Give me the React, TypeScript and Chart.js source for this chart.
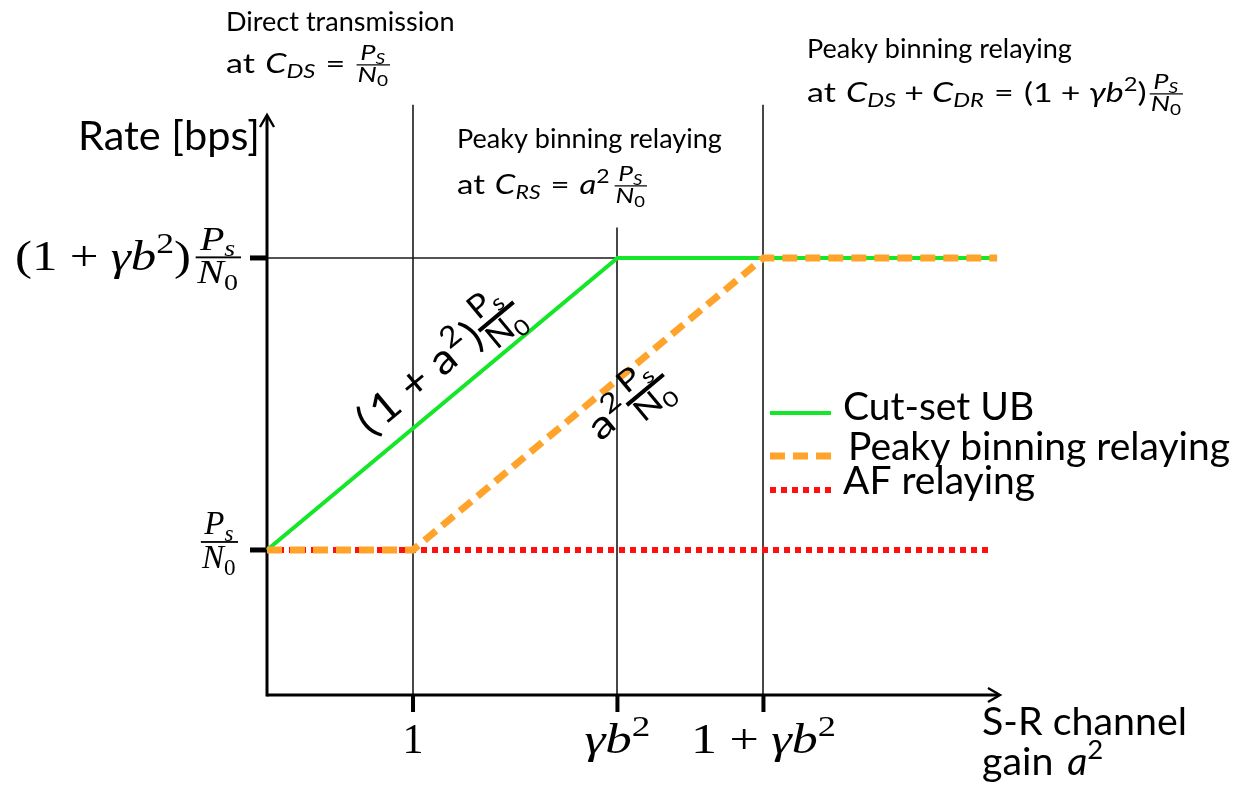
import React, { useEffect, useRef } from 'react';
import { Chart, registerables } from 'chart.js';
Chart.register(...registerables);

// ---------- data ----------
const cutSetX = [0, 2.4, 5];
const cutSetY = [1, 3.4, 3.4];
const peakyX = [0, 1, 3.4, 5];
const peakyY = [1, 1, 3.4, 3.4];
const afX = [0, 4.97];
const afY = [1, 1];
const seriesLabels = ['Cut-set UB', 'Peaky binning relaying', 'AF relaying'];
const xTickValues = [1, 2.4, 3.4];
const yTickValues = [3.4, 1];
const guideX = [1, 2.4, 3.4];
const guideTop = [4.66, 3.65, 4.66];
const hGuideY = 3.4;
const hGuideEnd = 2.4;

// ---------- rich text ----------
type P = { t?: string; it?: boolean; sub?: P[]; sup?: P[]; num?: P[]; den?: P[]; fs?: number; sp?: number; bw?: number };
const T = (t: string, it = false): P => ({ t, it });
const S = (sp: number): P => ({ sp });
const SUB = (...p: P[]): P => ({ sub: p });
const SUP = (...p: P[]): P => ({ sup: p });
const FRAC = (num: P[], den: P[], fs?: number, bw?: number): P => ({ num, den, fs, bw });

const SANS = 'Lato, "DejaVu Sans", sans-serif';
const SERIF = '"Liberation Serif", "DejaVu Serif", serif';

const PS = (s: string) => [T('P', true), SUB(T(s, true))];
const N0 = [T('N', true), SUB(T('0'))];
const PSup = [T('P'), SUB(T('s'))];
const N0up = [T('N'), SUB(T('0'))];
const GB2 = [T('γ', true), T('b', true), SUP(T('2'))];

const xTickLabels: P[][] = [
  [T('1')],
  [...GB2],
  [T('1'), S(0.24), T('+'), S(0.24), ...GB2],
];
const xTickWidths = [0, 66, 145];
const yTickLabels: P[][] = [
  [T('('), T('1'), S(0.24), T('+'), S(0.24), ...GB2, T(')'), S(0.06), FRAC(PS('s'), N0, 33)],
  [FRAC(PS('s'), N0, 33)],
];
const yTickWidths = [226, 0];
const annoTitles = ['Direct transmission', 'Peaky binning relaying', 'Peaky binning relaying'];
const annoFormulas: P[][] = [
  [T('at'), S(0.3), T('C', true), SUB(T('DS', true)), S(0.3), T('='), S(0.3), FRAC(PS('S'), N0)],
  [T('at'), S(0.3), T('C', true), SUB(T('RS', true)), S(0.3), T('='), S(0.3), T('a', true), SUP(T('2')), S(0.12), FRAC(PS('S'), N0)],
  [T('at'), S(0.3), T('C', true), SUB(T('DS', true)), S(0.24), T('+'), S(0.24), T('C', true), SUB(T('DR', true)), S(0.3), T('='), S(0.3), T('(1'), S(0.24), T('+'), S(0.24), ...GB2, T(')'), S(0.06), FRAC(PS('S'), N0)],
];
const annoWidths = [164, 190, 376];
const greenLineLabel: P[] = [T('('), S(0.1), T('1'), S(0.25), T('+'), S(0.25), T('a'), SUP(T('2')), S(0.05), T(')'), FRAC(PSup, N0up, 32, 4)];
const orangeLineLabel: P[] = [T('a'), SUP(T('2')), FRAC(PSup, N0up, 30, 4)];

const GREEN = '#14e628';
const ORANGE = '#ffa32b';
const RED = '#ff1010';

function fnt(size: number, it: boolean | undefined, fam: string) {
  return `${it ? 'italic ' : ''}${size}px ${fam}`;
}

function layout(ctx: CanvasRenderingContext2D, ps: P[], size: number, fam: string): { w: number; draw: (x: number, b: number) => void } {
  const items: ((x: number, b: number) => void)[] = [];
  let w = 0;
  for (const p of ps) {
    const x0 = w;
    if (p.sp != null) {
      w += p.sp * size;
    } else if (p.t != null) {
      ctx.font = fnt(size, p.it, fam);
      const tw = ctx.measureText(p.t).width;
      items.push((x, b) => {
        ctx.font = fnt(size, p.it, fam);
        ctx.fillText(p.t as string, x + x0, b);
      });
      w += tw;
    } else if (p.sub) {
      const L = layout(ctx, p.sub, size * 0.7, fam);
      items.push((x, b) => L.draw(x + x0, b + size * 0.2));
      w += L.w;
    } else if (p.sup) {
      const L = layout(ctx, p.sup, size * 0.7, fam);
      items.push((x, b) => L.draw(x + x0, b - size * 0.4));
      w += L.w;
    } else if (p.num && p.den) {
      const fs = p.fs ?? size * 0.8;
      const N = layout(ctx, p.num, fs, fam);
      const D = layout(ctx, p.den, fs, fam);
      const fw = Math.max(N.w, D.w) + size * 0.12;
      const bw = p.bw ?? Math.max(1.2, size * 0.045);
      items.push((x, b) => {
        const bar = b - size * 0.3;
        ctx.fillRect(x + x0 + size * 0.03, bar - bw / 2, fw - size * 0.03, bw);
        N.draw(x + x0 + (fw - N.w) / 2, bar - bw / 2 - fs * 0.17 - 1);
        D.draw(x + x0 + (fw - D.w) / 2, bar + bw / 2 + fs * 0.76);
      });
      w += fw;
    }
  }
  return { w, draw: (x, b) => items.forEach((f) => f(x, b)) };
}

function drawRich(ctx: CanvasRenderingContext2D, ps: P[], x: number, b: number, size: number, fam: string, align: 'left' | 'right' | 'center' = 'left', target = 0) {
  const L = layout(ctx, ps, size, fam);
  const k = target > 0 ? target / L.w : 1;
  const w = L.w * k;
  const x0 = align === 'left' ? x : align === 'right' ? x - w : x - w / 2;
  ctx.save();
  ctx.translate(x0, b);
  ctx.scale(k, 1);
  L.draw(0, 0);
  ctx.restore();
  return w;
}

function fitSize(ctx: CanvasRenderingContext2D, text: string, target: number, fam: string) {
  ctx.font = `100px ${fam}`;
  return (100 * target) / ctx.measureText(text).width;
}

function seg(ctx: CanvasRenderingContext2D, x1: number, y1: number, x2: number, y2: number) {
  ctx.beginPath();
  ctx.moveTo(x1, y1);
  ctx.lineTo(x2, y2);
  ctx.stroke();
}

const overlay = {
  id: 'overlay',
  beforeDatasetsDraw(chart: any) {
    const { ctx, scales } = chart;
    const x = scales.x, y = scales.y;
    const x0 = x.getPixelForValue(0);
    const yb = y.getPixelForValue(y.min);
    ctx.save();
    ctx.strokeStyle = '#1a1a1a';
    ctx.lineWidth = 1.6;
    guideX.forEach((g, i) => {
      const px = Math.round(x.getPixelForValue(g));
      seg(ctx, px, y.getPixelForValue(guideTop[i]), px, yb);
    });
    const hy = Math.round(y.getPixelForValue(hGuideY));
    seg(ctx, x0, hy, x.getPixelForValue(hGuideEnd), hy);

    // axes
    ctx.strokeStyle = '#000';
    ctx.lineWidth = 3;
    const xr = x.getPixelForValue(x.max);
    const yt = y.getPixelForValue(y.max);
    seg(ctx, x0, yb, xr - 1, yb);
    seg(ctx, x0, yb + 1.5, x0, yt + 1);
    ctx.lineWidth = 2.4;
    ctx.beginPath();
    ctx.moveTo(xr - 12, yb - 7); ctx.lineTo(xr, yb); ctx.lineTo(xr - 12, yb + 7);
    ctx.stroke();
    ctx.beginPath();
    ctx.moveTo(x0 - 7, yt + 12); ctx.lineTo(x0, yt); ctx.lineTo(x0 + 7, yt + 12);
    ctx.stroke();

    // ticks
    ctx.fillStyle = '#000';
    xTickValues.forEach((v) => {
      const px = x.getPixelForValue(v);
      ctx.fillRect(px - 2, yb, 4, 17);
    });
    yTickValues.forEach((v) => {
      const py = y.getPixelForValue(v);
      ctx.fillRect(x0 - 17, py - 2.5, 17, 5);
    });
    ctx.restore();
  },
  afterDatasetsDraw(chart: any) {
    const { ctx, scales } = chart;
    const x = scales.x, y = scales.y;
    const x0 = x.getPixelForValue(0);
    const yb = y.getPixelForValue(y.min);
    ctx.save();
    ctx.fillStyle = '#000';
    ctx.textBaseline = 'alphabetic';

    // x tick labels
    xTickValues.forEach((v, i) => {
      drawRich(ctx, xTickLabels[i], x.getPixelForValue(v), yb + 58, 42, SERIF, 'center', xTickWidths[i]);
    });
    // y tick labels
    drawRich(ctx, yTickLabels[0], x0 - 26, y.getPixelForValue(yTickValues[0]) + 12, 42, SERIF, 'right', yTickWidths[0]);
    drawRich(ctx, yTickLabels[1], x0 - 29, y.getPixelForValue(yTickValues[1]) + 4, 40, SERIF, 'right', yTickWidths[1]);

    // axis titles
    const st = fitSize(ctx, 'Rate [bps]', 182, SANS);
    ctx.font = `${st}px ${SANS}`;
    ctx.fillText('Rate [bps]', 78, 150);
    const sx = fitSize(ctx, 'S-R channel', 205, SANS);
    ctx.font = `${sx}px ${SANS}`;
    ctx.fillText('S-R channel', 982, 735);
    drawRich(ctx, [T('gain'), S(0.35), T('a', true), SUP(T('2'))], 982, 775, sx, SANS);

    // annotations
    const sa = fitSize(ctx, 'Peaky binning relaying', 265, SANS);
    const annoPos = [[226, 31, 73], [457, 148, 194], [807, 58, 102]];
    annoPos.forEach(([ax, b1, b2], i) => {
      ctx.font = `${sa}px ${SANS}`;
      ctx.fillText(annoTitles[i], ax, b1);
      drawRich(ctx, annoFormulas[i], ax, b2, sa, SANS, 'left', annoWidths[i]);
    });

    // rotated line labels
    const ang = Math.atan2(
      y.getPixelForValue(cutSetY[1]) - y.getPixelForValue(cutSetY[0]),
      x.getPixelForValue(cutSetX[1]) - x.getPixelForValue(cutSetX[0])
    );
    const gx = 0.8;
    ctx.save();
    ctx.translate(x.getPixelForValue(gx), y.getPixelForValue(cutSetY[0] + gx));
    ctx.rotate(ang);
    drawRich(ctx, greenLineLabel, 0, -20, 42, SANS, 'left', 196);
    ctx.restore();
    const ox = 2.12;
    ctx.save();
    ctx.translate(x.getPixelForValue(ox), y.getPixelForValue(peakyY[1] + (ox - peakyX[1])));
    ctx.rotate(ang);
    drawRich(ctx, orangeLineLabel, 0, 37, 38, SANS, 'left', 92);
    ctx.restore();

    // legend
    const sl = fitSize(ctx, 'Peaky binning relaying', 382, SANS);
    const legY = [413, 456, 490];
    const legB = [420, 460, 494];
    chart.data.datasets.forEach((ds: any, i: number) => {
      ctx.save();
      ctx.strokeStyle = ds.borderColor;
      ctx.lineWidth = ds.borderWidth;
      ctx.setLineDash(ds.borderDash || []);
      seg(ctx, 770, legY[i], 831, legY[i]);
      ctx.restore();
      ctx.font = `${sl}px ${SANS}`;
      ctx.fillText(ds.label, i === 1 ? 848 : 843, legB[i]);
    });
    ctx.restore();
  },
};

export default function App() {
  const ref = useRef<HTMLCanvasElement | null>(null);
  useEffect(() => {
    if (!ref.current) return;
    const pts = (xs: number[], ys: number[]) => xs.map((v, i) => ({ x: v, y: ys[i] }));
    const chart = new Chart(ref.current, {
      type: 'line',
      data: {
        datasets: [
          { label: seriesLabels[0], data: pts(cutSetX, cutSetY), borderColor: GREEN, borderWidth: 4, pointRadius: 0, order: 2, clip: false, fill: false } as any,
          { label: seriesLabels[1], data: pts(peakyX, peakyY), borderColor: ORANGE, borderWidth: 7, borderDash: [15, 8], pointRadius: 0, order: 1, clip: false, fill: false } as any,
          { label: seriesLabels[2], data: pts(afX, afY), borderColor: RED, borderWidth: 6, borderDash: [6, 5], pointRadius: 0, order: 3, clip: false, fill: false } as any,
        ],
      },
      options: {
        responsive: false,
        animation: false,
        devicePixelRatio: 1,
        events: [],
        layout: { padding: { left: 267, right: 236, top: 115, bottom: 96 } },
        scales: {
          x: { type: 'linear', min: 0, max: 5.02, display: false },
          y: { type: 'linear', min: -0.192, max: 4.575, display: false },
        },
        plugins: { legend: { display: false }, tooltip: { enabled: false } },
      } as any,
      plugins: [overlay as any],
    });
    return () => chart.destroy();
  }, []);
  return (
    <div style={{ position: 'fixed', left: 0, top: 0, width: 1236, height: 791, background: '#fff' }}>
      <canvas ref={ref} width={1236} height={791} style={{ display: 'block', width: 1236, height: 791 }} />
    </div>
  );
}
